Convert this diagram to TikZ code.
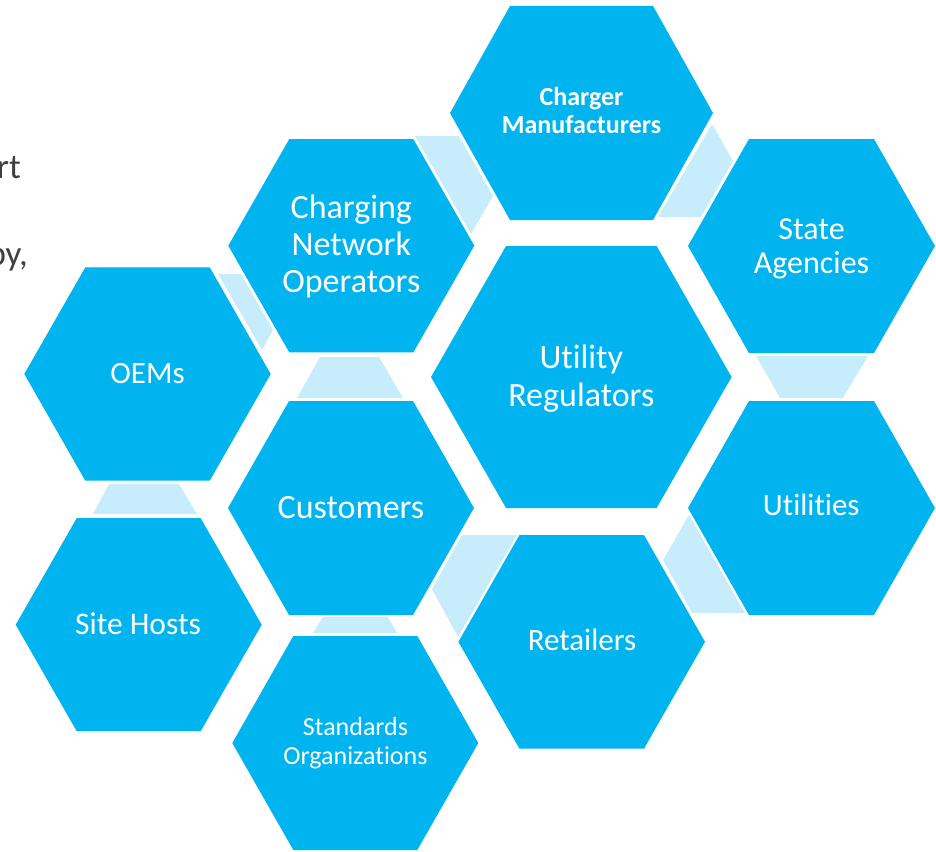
\documentclass[tikz,border=0pt]{standalone}
\usepackage{fontspec}
\setmainfont{Carlito}[Ligatures={NoCommon}]
\definecolor{hexblue}{HTML}{00B4EF}
\definecolor{linkblue}{HTML}{C7EDFC}
\definecolor{sidetext}{HTML}{404040}
\tikzset{
  hexfill/.style={fill=hexblue},
  linkfill/.style={fill=linkblue},
  hexlabel/.style={text=white, align=center, inner sep=0pt},
  sidelabel/.style={text=sidetext, inner sep=0pt, font=\fontsize{35}{40}\selectfont},
}
% cx, cy, half width, half height, horizontal run of slanted edges
\newcommand{\hexshape}[5]{%
  \fill[hexfill] (#1-#3,#2) -- (#1-#3+#5,#2-#4) -- (#1+#3-#5,#2-#4) -- (#1+#3,#2)
    -- (#1+#3-#5,#2+#4) -- (#1-#3+#5,#2+#4) -- cycle;}
\begin{document}
\begin{tikzpicture}[x=1pt,y=-1pt]
\useasboundingbox (0,0) rectangle (936,851);

% light connecting bands
\fill[linkfill] (415,136) -- (459,136) -- (493,196) -- (471,234) -- cycle;   % CNO - CM
\fill[linkfill] (712,124) -- (733,161) -- (701,217) -- (658,217) -- cycle;   % CM - SA
\fill[linkfill] (756,356) -- (868,356) -- (843,398) -- (780,398) -- cycle;   % SA - Utilities
\fill[linkfill] (689,515) -- (745,613) -- (692,613) -- (663,560) -- cycle;   % Utilities - Retailers
\fill[linkfill] (462,535) -- (517,535) -- (458,637) -- (432,589) -- cycle;   % Customers - Retailers
\fill[linkfill] (323,617) -- (388,617) -- (397,633) -- (313,633) -- cycle;   % Customers - Standards
\fill[linkfill] (109,484) -- (179,484) -- (197,514) -- (93,514) -- cycle;    % OEMs - Site Hosts
\fill[linkfill] (320,357) -- (379,357) -- (403,398) -- (297,398) -- cycle;   % CNO - Customers
\fill[linkfill] (218,274) -- (241,274) -- (273,330) -- (262,350) -- cycle;   % OEMs - CNO

% hexagons
\hexshape{581.5}{113}{131.5}{107}{60}     % Charger Manufacturers
\hexshape{811.5}{246}{123.5}{107}{61}     % State Agencies
\hexshape{811.5}{508}{123.5}{107}{61}     % Utilities
\hexshape{581.3}{377}{150.3}{131}{75}     % Utility Regulators
\hexshape{351.3}{245.7}{123}{106.7}{61}   % Charging Network Operators
\hexshape{147.5}{374}{123.2}{106.7}{61}   % OEMs
\hexshape{351}{508}{123}{107}{61}         % Customers
\hexshape{138.7}{624.7}{123}{106.5}{61}   % Site Hosts
\hexshape{581.7}{641.8}{123.3}{106.8}{61} % Retailers
\hexshape{355.3}{743}{123}{107}{61}       % Standards Organizations

% labels
\node[hexlabel, font=\fontsize{26}{28.3}\selectfont\bfseries] (cm) at (581.5,110.2) {Charger\\Manufacturers};
\node[hexlabel, font=\fontsize{32}{34.5}\selectfont] (sa) at (811.5,249) {State\\Agencies};
\node[hexlabel, font=\fontsize{31}{34}\selectfont, anchor=base] (util) at (811.3,515.7) {Utilities};
\node[hexlabel, font=\fontsize{34}{37.4}\selectfont] (ur) at (581.3,378.7) {Utility\\Regulators};
\node[hexlabel, font=\fontsize{34}{36.7}\selectfont] (cno) at (351.3,246.6) {Charging\\Network\\Operators};
\node[hexlabel, font=\fontsize{31}{34}\selectfont, anchor=base] (oem) at (147.5,383.3) {OEMs};
\node[hexlabel, font=\fontsize{34}{37}\selectfont, anchor=base] (cust) at (351,518.3) {Customers};
\node[hexlabel, font=\fontsize{31.5}{34}\selectfont, anchor=base] (site) at (138,634.3) {Site Hosts};
\node[hexlabel, font=\fontsize{31}{34}\selectfont, anchor=base] (ret) at (582,650.7) {Retailers};
\node[hexlabel, font=\fontsize{26}{29}\selectfont] (std) at (355.5,743.1) {Standards\\Organizations};

% cut-off text at the left edge (cut off in the reference as well)
\node[sidelabel, anchor=base east] (frag1) at (21,178) {rt};
\node[sidelabel, anchor=base east] (frag2) at (28,265) {py,};
\end{tikzpicture}
\end{document}
